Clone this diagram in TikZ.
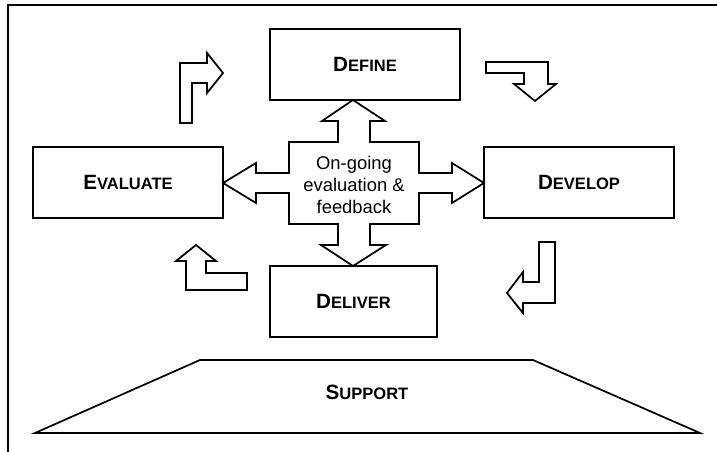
\documentclass[tikz,border=0pt]{standalone}
\usepackage{fontspec}
\setmainfont{Liberation Sans}
% Word-style small capitals: a full-size initial followed by reduced capitals
\newcommand\capsword[2]{{\bfseries\fontsize{15.5pt}{18pt}\selectfont #1\fontsize{12.4pt}{18pt}\selectfont #2}}
\tikzset{
  stagebox/.style={draw, line width=1.3pt, fill=white, minimum height=53.25pt, inner sep=0pt},
  outline/.style={draw, line width=1.3pt, line join=miter},
}
\begin{document}
\begin{tikzpicture}[x=0.75pt, y=-0.75pt]
\useasboundingbox (0,0) rectangle (717,452);

% frame
\draw[line width=1.5pt] (8,452) -- (8,5) -- (717,5);

% stage boxes
\node[stagebox, minimum width=142.5pt]  (define)   at (365,64.5)   {\capsword{D}{EFINE}};
\node[stagebox, minimum width=142.5pt]  (evaluate) at (128,182.5)  {\capsword{E}{VALUATE}};
\node[stagebox, minimum width=142.5pt]  (develop)  at (579,182.5)  {\capsword{D}{EVELOP}};
\node[stagebox, minimum width=125.25pt] (deliver)  at (353.5,301.5) {\capsword{D}{ELIVER}};

% support base
\draw[outline] (35,433) -- (200,360) -- (533,360) -- (700,433) -- cycle;
\node (support) at (367,392) {\capsword{S}{UPPORT}};

% four-way arrow
\draw[outline] (353,100) -- (385,121) -- (370,121) -- (370,142) -- (419,142) -- (419,173)
  -- (452,173) -- (452,163) -- (484,183) -- (452,203) -- (452,193) -- (419,193) -- (419,224)
  -- (370,224) -- (370,245) -- (386,245) -- (353,266) -- (321,245) -- (338,245) -- (338,224)
  -- (289,224) -- (289,193) -- (256,193) -- (256,203) -- (223,183) -- (256,163) -- (256,173)
  -- (289,173) -- (289,142) -- (338,142) -- (338,121) -- (322,121) -- cycle;
\node[align=center, font=\fontsize{13.8pt}{16.5pt}\selectfont] (hub) at (354,185)
  {On-going\\evaluation \&\\feedback};

% bent arrows around the cycle
\draw[outline] (180,123) -- (180,63) -- (207,63) -- (207,53) -- (223,73) -- (207,93)
  -- (207,83) -- (192,83) -- (192,123) -- cycle;
\draw[outline] (486,62) -- (548,62) -- (548,84) -- (556,84) -- (535,101) -- (514,84)
  -- (524,84) -- (524,73) -- (486,73) -- cycle;
\draw[outline] (539,242) -- (555,242) -- (555,303) -- (523,303) -- (523,313) -- (507,293)
  -- (523,272) -- (523,282) -- (539,282) -- cycle;
\draw[outline] (247,290) -- (186,290) -- (186,261) -- (176,261) -- (196,245) -- (216,261)
  -- (206,261) -- (206,273) -- (247,273) -- cycle;
\end{tikzpicture}
\end{document}
